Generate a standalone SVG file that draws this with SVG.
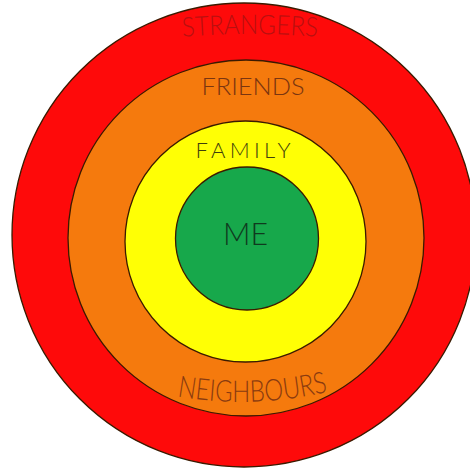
<svg xmlns="http://www.w3.org/2000/svg" width="470" height="472" viewBox="0 0 470 472">
<style>
.ring{stroke:#3a1a00;stroke-width:1.3}
.lbl{font-family:Lato,"Open Sans","Liberation Sans",sans-serif;font-weight:300}
</style>
<defs>
<path id="arcTop" d="M 150,40 Q 250,28 350,40"/>
<path id="arcBottom" d="M 165,394 Q 250,412 340,389"/>
</defs>
<rect x="0" y="0" width="470" height="472" fill="#ffffff"/>
<g id="strangers">
<circle class="ring" cx="244" cy="235" r="232" fill="#fe0a0a"/>
<text class="lbl" font-size="27" fill="#b81010"><textPath href="#arcTop" startOffset="50%" text-anchor="middle" textLength="135" lengthAdjust="spacingAndGlyphs">STRANGERS</textPath></text>
</g>
<g id="friends">
<circle class="ring" cx="246" cy="238" r="178" fill="#f57a0d"/>
<text class="lbl" x="253" y="95" font-size="24" fill="#7a3510" text-anchor="middle" textLength="103" lengthAdjust="spacingAndGlyphs">FRIENDS</text>
<text class="lbl" font-size="30" fill="#8a3a10"><textPath href="#arcBottom" startOffset="50%" text-anchor="middle" textLength="152" lengthAdjust="spacingAndGlyphs">NEIGHBOURS</textPath></text>
</g>
<g id="family">
<circle class="ring" cx="245.5" cy="241.5" r="120.5" fill="#ffff05"/>
<text class="lbl" x="243" y="158" font-size="22" fill="#3f3f0c" text-anchor="middle" textLength="95" lengthAdjust="spacing">FAMILY</text>
</g>
<g id="me">
<circle class="ring" cx="247" cy="238.5" r="71.5" fill="#17a84b"/>
<text class="lbl" x="245.5" y="245" font-size="31" fill="#0f3a1e" text-anchor="middle" textLength="45" lengthAdjust="spacingAndGlyphs">ME</text>
</g>
<g id="connectors"/>
</svg>
